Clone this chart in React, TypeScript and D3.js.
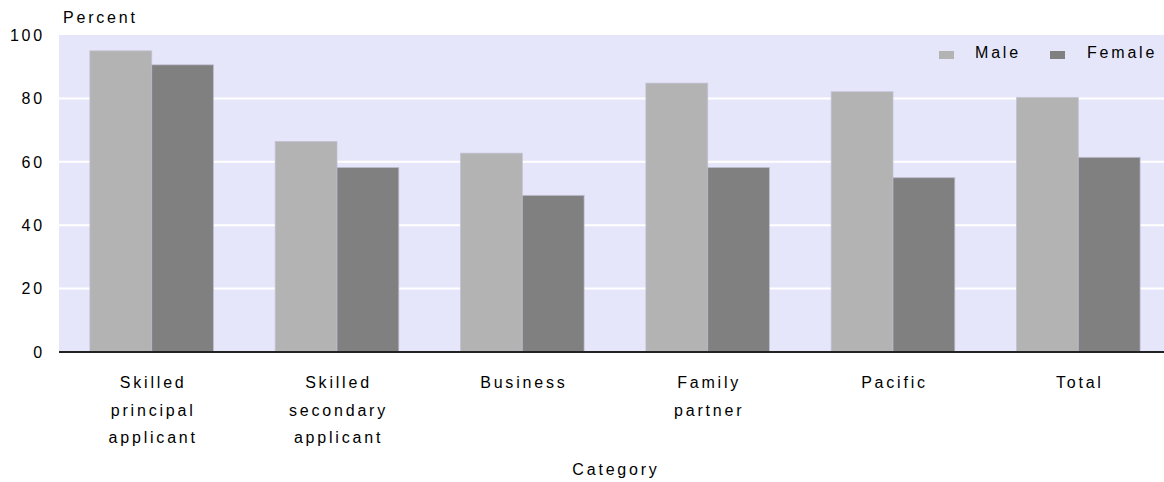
import React from "react";
import * as d3 from "d3";

const categories: string[][] = [
  ["Skilled", "principal", "applicant"],
  ["Skilled", "secondary", "applicant"],
  ["Business"],
  ["Family", "partner"],
  ["Pacific"],
  ["Total"],
];
const seriesNames = ["Male", "Female"];
const maleValues = [95, 66.4, 62.7, 84.8, 82.1, 80.3];
const femaleValues = [90.6, 58.2, 49.4, 58.2, 55.0, 61.4];
const yTicks = [0, 20, 40, 60, 80, 100];
const colors = ["#b3b3b3", "#808080"];

const W = 1164;
const H = 482;
const plotLeft = 59;
const plotRight = 1171;
const plotTop = 35;
const plotBottom = 352;
const font = "'Liberation Sans', Arial, sans-serif";

export default function App() {
  const keys = categories.map((c) => c.join(" "));
  const x0 = d3.scaleBand<string>().domain(keys).range([plotLeft, plotRight]).padding(0);
  const bw = x0.bandwidth();
  const x1 = d3
    .scaleBand<string>()
    .domain(seriesNames)
    .range([bw * 0.1667, bw * 0.8333])
    .padding(0);
  const y = d3.scaleLinear().domain([0, 100]).range([plotBottom, plotTop]);
  const series = [maleValues, femaleValues];

  const textStyle: React.CSSProperties = {
    fontFamily: font,
    fontSize: 16,
    letterSpacing: "2.8px",
    fill: "#000",
  };

  return (
    <svg
      width={W}
      height={H}
      style={{ position: "absolute", left: 0, top: 0, background: "#fff" }}
    >
      <rect
        x={plotLeft}
        y={plotTop}
        width={W - plotLeft}
        height={plotBottom - plotTop}
        fill="#e6e6fa"
      />
      {yTicks
        .filter((t) => t > 0 && t < 100)
        .map((t) => (
          <line
            key={"g" + t}
            x1={plotLeft}
            x2={W}
            y1={y(t)}
            y2={y(t)}
            stroke="#ffffff"
            strokeWidth={2}
          />
        ))}
      {keys.map((k, i) => (
        <g key={k} transform={`translate(${x0(k)},0)`}>
          {seriesNames.map((s, j) => (
            <rect
              key={s}
              x={x1(s)}
              y={y(series[j][i])}
              width={x1.bandwidth()}
              height={plotBottom - y(series[j][i])}
              fill={colors[j]}
              stroke="rgba(190,190,210,0.7)"
              strokeWidth={1}
            />
          ))}
        </g>
      ))}
      <line
        x1={plotLeft}
        x2={W}
        y1={plotBottom}
        y2={plotBottom}
        stroke="#222"
        strokeWidth={2}
      />
      {yTicks.map((t) => (
        <text
          key={"t" + t}
          x={45}
          y={y(t)}
          dy="0.36em"
          textAnchor="end"
          style={textStyle}
        >
          {t}
        </text>
      ))}
      <text x={63} y={23} style={textStyle}>
        Percent
      </text>
      {categories.map((lines, i) => (
        <text
          key={"c" + i}
          x={(x0(keys[i]) as number) + bw / 2 + 1.5}
          y={388}
          textAnchor="middle"
          style={textStyle}
        >
          {lines.map((l, li) => (
            <tspan key={li} x={(x0(keys[i]) as number) + bw / 2 + 1.5} y={388 + li * 27.5}>
              {l}
            </tspan>
          ))}
        </text>
      ))}
      <text x={616} y={475} textAnchor="middle" style={textStyle}>
        Category
      </text>
      {/* legend */}
      {seriesNames.map((s, j) => {
        const lx = [939, 1050][j];
        const tx = [975, 1087][j];
        return (
          <g key={"l" + s}>
            <rect x={lx} y={51} width={15} height={8} fill={colors[j]} />
            <text x={tx} y={58} style={textStyle}>
              {s}
            </text>
          </g>
        );
      })}
    </svg>
  );
}
